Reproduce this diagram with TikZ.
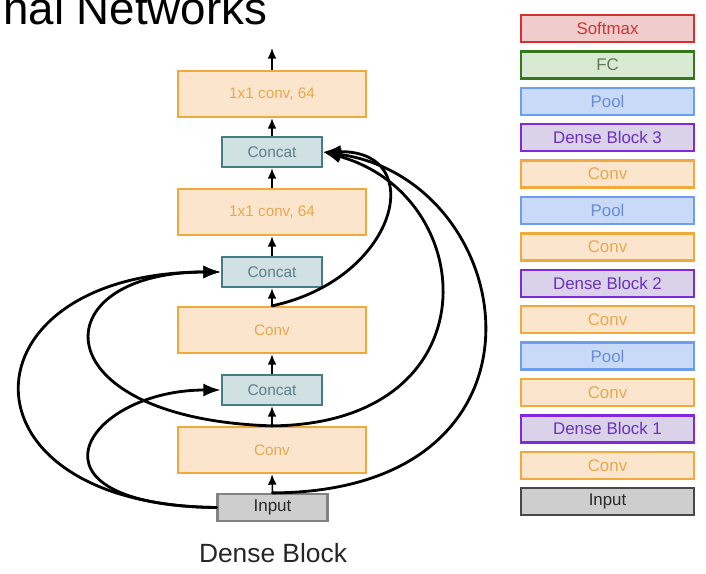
\documentclass[tikz,border=0pt]{standalone}
\usepackage{fontspec}
\setmainfont{Liberation Sans}
\usetikzlibrary{arrows.meta}
\tikzset{
  block/.style   = {draw, line width=1.3pt, minimum width=3.76cm,
                    minimum height=0.92cm, font=\fontsize{8.7}{10}\selectfont},
  cblock/.style  = {draw, line width=1.3pt, minimum width=2.0cm,
                    minimum height=0.6cm, font=\fontsize{8.8}{10}\selectfont},
  sblock/.style  = {draw, line width=1.3pt, minimum width=3.46cm,
                    minimum height=0.54cm, inner sep=0pt,
                    font=\fontsize{9.6}{11}\selectfont},
  conv/.style    = {fill=convFill, draw=convLine, text=convText},
  concat/.style  = {fill=catFill, draw=catLine, text=catText},
  pool/.style    = {fill=poolFill, draw=poolLine, text=poolText},
  fc/.style      = {fill=fcFill, draw=fcLine, text=fcText},
  softmax/.style = {fill=smFill, draw=smLine, text=smText},
  dense/.style   = {fill=dbFill, draw=dbLine, text=dbText},
  inbox/.style   = {fill=inFill, draw=inLine, text=inText},
  arr/.style     = {-{Latex[length=6pt,width=5pt]}, line width=0.9pt},
  skip/.style    = {-{Latex[length=10pt,width=7.5pt]}, line width=1.6pt,
                    line cap=round}
}
\definecolor{convFill}{RGB}{251,229,205}
\definecolor{convLine}{RGB}{241,169,60}
\definecolor{convText}{RGB}{233,168,78}
\definecolor{catFill}{RGB}{208,224,227}
\definecolor{catLine}{RGB}{69,125,134}
\definecolor{catText}{RGB}{92,128,136}
\definecolor{poolFill}{RGB}{201,218,248}
\definecolor{poolLine}{RGB}{109,158,235}
\definecolor{poolText}{RGB}{104,140,214}
\definecolor{fcFill}{RGB}{217,234,211}
\definecolor{fcLine}{RGB}{56,118,29}
\definecolor{fcText}{RGB}{100,120,92}
\definecolor{smFill}{RGB}{240,204,204}
\definecolor{smLine}{RGB}{214,48,48}
\definecolor{smText}{RGB}{204,54,54}
\definecolor{dbFill}{RGB}{217,210,233}
\definecolor{dbLine}{RGB}{128,40,220}
\definecolor{dbText}{RGB}{108,48,190}
\definecolor{inFill}{RGB}{206,206,206}
\definecolor{inLine}{RGB}{130,130,130}
\definecolor{inText}{RGB}{40,40,40}
\definecolor{sInLine}{RGB}{72,72,72}

\begin{document}
\begin{tikzpicture}[x=0.02cm, y=-0.02cm]
    \useasboundingbox (0,0) rectangle (706,574);
    \node[anchor=base west, font=\fontsize{26}{30}\selectfont] (title) at (-3,25) {nal Networks};

    \node[block, inbox, minimum width=2.2cm, minimum height=0.46cm,
          font=\fontsize{9.7}{11}\selectfont] (inp) at (272.5,507.5) {Input};
    \node[block, conv] (convA) at (272,450) {Conv};
    \node[cblock, concat] (catA) at (272,390) {Concat};
    \node[block, conv] (convB) at (272,330) {Conv};
    \node[cblock, concat] (catB) at (272,272) {Concat};
    \node[block, conv] (convC) at (272,212) {1x1 conv, 64};
    \node[cblock, concat] (catC) at (272,152) {Concat};
    \node[block, conv] (convD) at (272,94) {1x1 conv, 64};
    \coordinate (out) at (272,48);
    \node[anchor=base, text=black!85, font=\fontsize{15}{18}\selectfont] (cap) at (273,562) {Dense Block};

    \draw[arr] (inp.north) -- (convA.south);
    \draw[arr] (convA.north) -- (catA.south);
    \draw[arr] (catA.north) -- (convB.south);
    \draw[arr] (convB.north) -- (catB.south);
    \draw[arr] (catB.north) -- (convC.south);
    \draw[arr] (convC.north) -- (catC.south);
    \draw[arr] (catC.north) -- (convD.south);
    \draw[arr] (convD.north) -- (out);

    \draw[skip] (inp.west) .. controls +(-205,-2.5) and +(-136,0) .. (catA.west);
    \draw[skip] (inp.west) .. controls +(-267,-2.5) and +(-262,0) .. (catB.west);
    \draw[skip] (convA.north) .. controls +(-232,-7) and +(-182,0) .. (catB.west);
    \draw[skip] (convB.north) .. controls +(126,-27) and +(106,-2) .. (catC.east);
    \draw[skip] (convA.north) .. controls +(223,-2) and +(158,43) .. (catC.east);
    \draw[skip] (inp.north) .. controls +(298,-1) and +(198,28) .. (catC.east);

    \node[sblock, inbox, draw=sInLine] (sIn) at (607.5,501.7) {Input};
    \node[sblock, conv] (sConv1) at (607.5,465.3) {Conv};
    \node[sblock, dense] (sDB1) at (607.5,428.9) {Dense Block 1};
    \node[sblock, conv] (sConv2) at (607.5,392.5) {Conv};
    \node[sblock, pool] (sPool1) at (607.5,356.1) {Pool};
    \node[sblock, conv] (sConv3) at (607.5,319.7) {Conv};
    \node[sblock, dense] (sDB2) at (607.5,283.3) {Dense Block 2};
    \node[sblock, conv] (sConv4) at (607.5,246.9) {Conv};
    \node[sblock, pool] (sPool2) at (607.5,210.5) {Pool};
    \node[sblock, conv] (sConv5) at (607.5,174.1) {Conv};
    \node[sblock, dense] (sDB3) at (607.5,137.7) {Dense Block 3};
    \node[sblock, pool] (sPool3) at (607.5,101.3) {Pool};
    \node[sblock, fc] (sFC) at (607.5,64.9) {FC};
    \node[sblock, softmax] (sSoftmax) at (607.5,28.5) {Softmax};
\end{tikzpicture}
\end{document}
